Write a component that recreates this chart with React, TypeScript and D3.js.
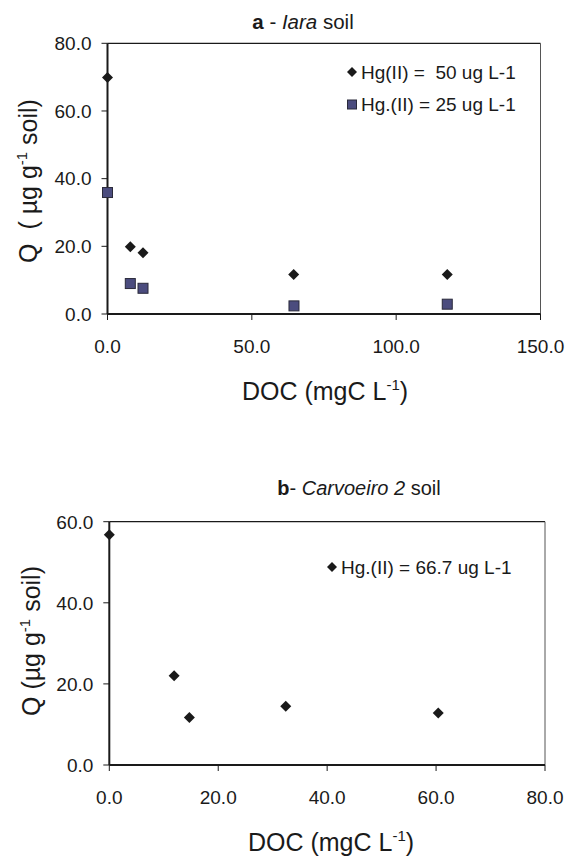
import React from "react";
import * as d3 from "d3";

// panel a - Iara soil
const docA50 = [0, 7.9, 12.3, 64.5, 117.7];
const qA50 = [69.9, 19.9, 18.1, 11.7, 11.7];
const docA25 = [0, 7.9, 12.3, 64.6, 117.7];
const qA25 = [35.9, 9.0, 7.6, 2.4, 2.9];
const xTicksA = [0, 50, 100, 150];
const yTicksA = [0, 20, 40, 60, 80];

// panel b - Carvoeiro 2 soil
const docB = [0, 11.9, 14.7, 32.4, 60.4];
const qB = [56.8, 22.0, 11.7, 14.5, 12.8];
const xTicksB = [0, 20, 40, 60, 80];
const yTicksB = [0, 20, 40, 60];

const FONT = "'Liberation Sans', Arial, Helvetica, sans-serif";
const INK = "#1a1a1a";
const SQUARE_FILL = "#4b4c7e";

const diamond = (r: number) => `M0,${-r}L${r},0L0,${r}L${-r},0Z`;

const Diamond = ({ x, y, r = 5.5 }) => (
  <path d={diamond(r)} transform={`translate(${x},${y})`} fill={INK} />
);

const Square = ({ x, y, s = 10 }) => (
  <rect x={x - s / 2} y={y - s / 2} width={s} height={s} fill={SQUARE_FILL} stroke="#2a2a3a" strokeWidth={1} />
);

const Frame = ({ x, y, xTicks, yTicks }) => {
  const [x0, x1] = x.range();
  const [y0, y1] = y.range();
  return (
    <g>
      <line x1={x0} x2={x1} y1={y1} y2={y1} stroke={INK} strokeWidth={1.2} />
      <line x1={x1} x2={x1} y1={y1} y2={y0} stroke="#555" strokeWidth={1} />
      <line x1={x0} x2={x0} y1={y0} y2={y1} stroke={INK} strokeWidth={2} />
      <line x1={x0} x2={x1} y1={y0} y2={y0} stroke={INK} strokeWidth={2} />
      {yTicks.map((t) => (
        <g key={"y" + t}>
          <line x1={x0 - 6} x2={x0} y1={y(t)} y2={y(t)} stroke={INK} strokeWidth={1} />
          <text x={x0 - 16} y={y(t)} dy="0.36em" textAnchor="end" fontSize={19} fill={INK}>
            {t.toFixed(1)}
          </text>
        </g>
      ))}
      {xTicks.map((t) => (
        <g key={"x" + t}>
          <line x1={x(t)} x2={x(t)} y1={y0} y2={y0 + 6} stroke={INK} strokeWidth={1} />
          <text x={x(t)} y={y0 + 39} textAnchor="middle" fontSize={19} fill={INK}>
            {t.toFixed(1)}
          </text>
        </g>
      ))}
    </g>
  );
};

const XTitle = ({ cx, y }) => (
  <text x={cx} y={y} textAnchor="middle" fontSize={25} fill={INK}>
    DOC (mgC L<tspan dy={-10} fontSize={15}>-1</tspan>
    <tspan dy={10}>)</tspan>
  </text>
);

const YTitle = ({ x, cy, head }) => (
  <text transform={`translate(${x},${cy}) rotate(-90)`} textAnchor="middle" fontSize={25} fill={INK} style={{ whiteSpace: "pre" }}>
    {head}
    <tspan dy={-10} fontSize={15}>-1</tspan>
    <tspan dy={10}> soil)</tspan>
  </text>
);

export default function App() {
  const xA = d3.scaleLinear().domain([0, 150]).range([107.5, 540.5]);
  const yA = d3.scaleLinear().domain([0, 80]).range([314, 43.3]);
  const xB = d3.scaleLinear().domain([0, 80]).range([109.3, 545]);
  const yB = d3.scaleLinear().domain([0, 60]).range([765, 521.7]);

  return (
    <svg
      width={569}
      height={856}
      style={{ position: "absolute", left: 0, top: 0, background: "#fff", fontFamily: FONT }}
    >
      <rect width={569} height={856} fill="#fff" />

      {/* panel a */}
      <text x={303} y={29} textAnchor="middle" fontSize={20.5} fill={INK} style={{ whiteSpace: "pre" }}>
        <tspan fontWeight="bold">a</tspan> - <tspan fontStyle="italic">Iara</tspan> soil
      </text>
      <Frame x={xA} y={yA} xTicks={xTicksA} yTicks={yTicksA} />
      {docA50.map((d, i) => (
        <Diamond key={"a50" + i} x={xA(d)} y={yA(qA50[i])} />
      ))}
      {docA25.map((d, i) => (
        <Square key={"a25" + i} x={xA(d)} y={yA(qA25[i])} />
      ))}
      <Diamond x={352} y={72} r={5} />
      <text x={361} y={72} dy="0.36em" fontSize={19} fill={INK} style={{ whiteSpace: "pre" }}>
        Hg(II) =  50 ug L-1
      </text>
      <Square x={352} y={104.5} s={9} />
      <text x={361} y={104.5} dy="0.36em" fontSize={19} fill={INK} style={{ whiteSpace: "pre" }}>
        Hg.(II) = 25 ug L-1
      </text>
      <XTitle cx={325} y={400} />
      <YTitle x={37} cy={181} head={"Q  ( µg g"} />

      {/* panel b */}
      <text x={359} y={495} textAnchor="middle" fontSize={20} fill={INK} style={{ whiteSpace: "pre" }}>
        <tspan fontWeight="bold">b</tspan>- <tspan fontStyle="italic">Carvoeiro 2</tspan> soil
      </text>
      <Frame x={xB} y={yB} xTicks={xTicksB} yTicks={yTicksB} />
      {docB.map((d, i) => (
        <Diamond key={"b" + i} x={xB(d)} y={yB(qB[i])} />
      ))}
      <Diamond x={332} y={567} r={5} />
      <text x={341} y={567} dy="0.36em" fontSize={19} fill={INK} style={{ whiteSpace: "pre" }}>
        Hg.(II) = 66.7 ug L-1
      </text>
      <XTitle cx={331} y={851} />
      <YTitle x={40} cy={641} head={"Q (µg g"} />
    </svg>
  );
}
